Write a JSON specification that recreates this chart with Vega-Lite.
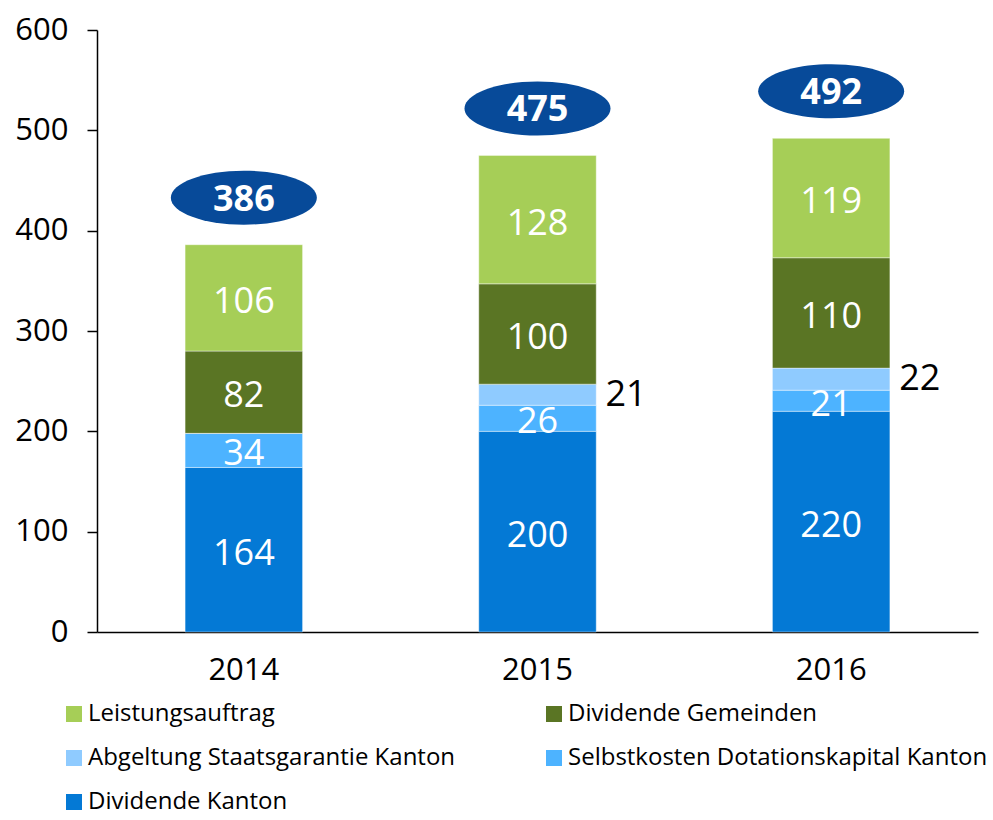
{
  "$schema": "https://vega.github.io/schema/vega-lite/v6.json",
  "width": 881,
  "height": 602,
  "autosize": {"type": "none"},
  "padding": {"left": 97, "top": 30, "right": 15, "bottom": 188},
  "config": {
    "view": {"stroke": null},
    "font": "Open Sans",
    "axis": {"labelFont": "Open Sans", "labelColor": "#000000", "domainColor": "#000000", "tickColor": "#000000", "grid": false, "title": null}
  },
  "data": {
    "values": [
      {"year": "2014", "series": "Dividende Kanton", "rank": 1, "value": 164},
      {"year": "2014", "series": "Selbstkosten Dotationskapital Kanton", "rank": 2, "value": 34},
      {"year": "2014", "series": "Abgeltung Staatsgarantie Kanton", "rank": 3, "value": 0},
      {"year": "2014", "series": "Dividende Gemeinden", "rank": 4, "value": 82},
      {"year": "2014", "series": "Leistungsauftrag", "rank": 5, "value": 106},
      {"year": "2015", "series": "Dividende Kanton", "rank": 1, "value": 200},
      {"year": "2015", "series": "Selbstkosten Dotationskapital Kanton", "rank": 2, "value": 26},
      {"year": "2015", "series": "Abgeltung Staatsgarantie Kanton", "rank": 3, "value": 21},
      {"year": "2015", "series": "Dividende Gemeinden", "rank": 4, "value": 100},
      {"year": "2015", "series": "Leistungsauftrag", "rank": 5, "value": 128},
      {"year": "2016", "series": "Dividende Kanton", "rank": 1, "value": 220},
      {"year": "2016", "series": "Selbstkosten Dotationskapital Kanton", "rank": 2, "value": 21},
      {"year": "2016", "series": "Abgeltung Staatsgarantie Kanton", "rank": 3, "value": 22},
      {"year": "2016", "series": "Dividende Gemeinden", "rank": 4, "value": 110},
      {"year": "2016", "series": "Leistungsauftrag", "rank": 5, "value": 119}
    ]
  },
  "encoding": {
    "x": {
      "field": "year", "type": "nominal",
      "scale": {"paddingInner": 0.6, "paddingOuter": 0.3},
      "axis": {"labelAngle": 0, "ticks": false, "labelFontSize": 31, "labelPadding": 23, "domainWidth": 1.5}
    }
  },
  "layer": [
    {
      "transform": [
        {"stack": "value", "groupby": ["year"], "sort": [{"field": "rank", "order": "ascending"}], "as": ["y0", "y1"]}
      ],
      "mark": {"type": "bar", "stroke": "#ffffff", "strokeOpacity": 0.5, "strokeWidth": 0.8},
      "encoding": {
        "y": {
          "field": "y0", "type": "quantitative",
          "scale": {"domain": [0, 600]},
          "axis": {"values": [0, 100, 200, 300, 400, 500, 600], "labelFontSize": 31, "tickSize": 10, "labelPadding": 19, "domainWidth": 1.5, "tickWidth": 1.5}
        },
        "y2": {"field": "y1"},
        "color": {
          "field": "series", "type": "nominal",
          "scale": {
            "domain": ["Leistungsauftrag", "Dividende Gemeinden", "Abgeltung Staatsgarantie Kanton", "Selbstkosten Dotationskapital Kanton", "Dividende Kanton"],
            "range": ["#A6CE57", "#5A7524", "#8FCBFF", "#4DB3FF", "#0479D5"]
          },
          "legend": {
            "title": null,
            "orient": "none",
            "direction": "horizontal",
            "legendX": -35,
            "legendY": 672,
            "columns": 2,
            "columnPadding": 86,
            "rowPadding": 20,
            "symbolType": "square",
            "symbolSize": 256,
            "symbolStrokeWidth": 0,
            "symbolOpacity": 1,
            "labelFontSize": 24,
            "labelFont": "Open Sans",
            "labelColor": "#000000",
            "labelOffset": 2,
            "labelLimit": 600
          }
        }
      }
    },
    {
      "transform": [
        {"stack": "value", "groupby": ["year"], "sort": [{"field": "rank", "order": "ascending"}], "as": ["y0", "y1"]},
        {"calculate": "(datum.y0 + datum.y1) / 2", "as": "mid"},
        {"filter": "datum.series !== 'Abgeltung Staatsgarantie Kanton' && datum.value > 0"}
      ],
      "mark": {"type": "text", "color": "#ffffff", "fontSize": 36, "baseline": "middle", "align": "center", "dy": 4},
      "encoding": {
        "y": {"field": "mid", "type": "quantitative"},
        "text": {"field": "value", "type": "quantitative"}
      }
    },
    {
      "transform": [
        {"stack": "value", "groupby": ["year"], "sort": [{"field": "rank", "order": "ascending"}], "as": ["y0", "y1"]},
        {"calculate": "(datum.y0 + datum.y1) / 2", "as": "mid"},
        {"filter": "datum.series === 'Abgeltung Staatsgarantie Kanton' && datum.value > 0"}
      ],
      "mark": {"type": "text", "color": "#000000", "fontSize": 36, "baseline": "middle", "align": "left", "dx": 68, "dy": 0},
      "encoding": {
        "y": {"field": "mid", "type": "quantitative"},
        "text": {"field": "value", "type": "quantitative"}
      }
    },
    {
      "transform": [
        {"aggregate": [{"op": "sum", "field": "value", "as": "total"}], "groupby": ["year"]}
      ],
      "mark": {
        "type": "point",
        "shape": "M -1 0 A 1 0.37 0 1 0 1 0 A 1 0.37 0 1 0 -1 0 Z",
        "filled": true,
        "color": "#074A99",
        "opacity": 1,
        "size": 21316,
        "yOffset": -47
      },
      "encoding": {
        "y": {"field": "total", "type": "quantitative"}
      }
    },
    {
      "transform": [
        {"aggregate": [{"op": "sum", "field": "value", "as": "total"}], "groupby": ["year"]}
      ],
      "mark": {"type": "text", "color": "#ffffff", "fontSize": 36, "fontWeight": "bold", "baseline": "middle", "align": "center", "yOffset": -45},
      "encoding": {
        "y": {"field": "total", "type": "quantitative"},
        "text": {"field": "total", "type": "quantitative"}
      }
    }
  ]
}
